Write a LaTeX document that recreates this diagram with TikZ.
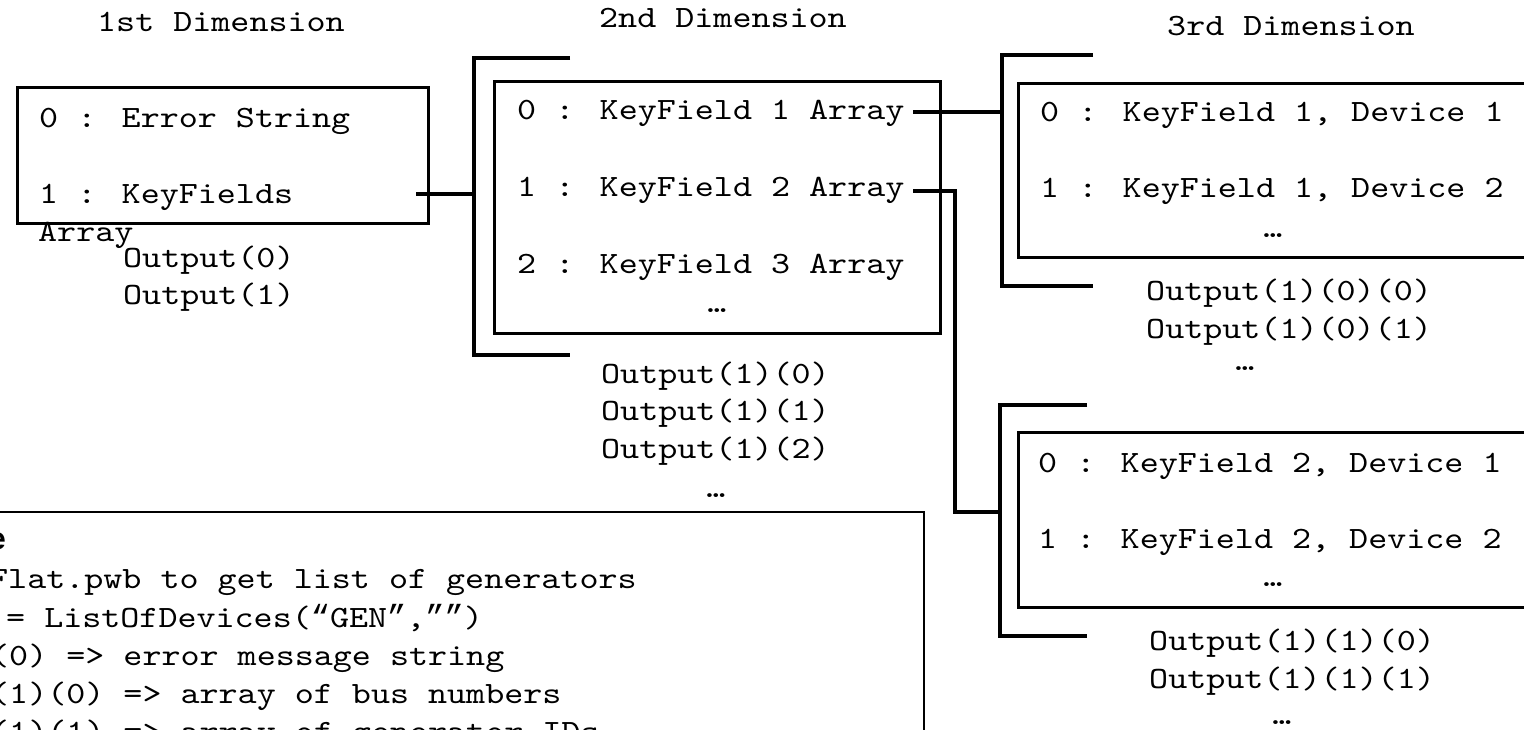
\documentclass[tikz,border=0pt]{standalone}
\usepackage{fontspec}
\newfontfamily\sansbold{Liberation Sans}[BoldFont={Liberation Sans Bold}]
\newfontfamily\cmono{lmmono10-regular.otf}[FakeStretch=1.17]
\newfontfamily\qmono{Liberation Mono}
\usetikzlibrary{calc}
\newcommand\cfont{\cmono\fontsize{31bp}{38bp}\selectfont}
\newcommand\qo{{\qmono\fontsize{32bp}{38bp}\selectfont “}}
\newcommand\qc{{\qmono\fontsize{32bp}{38bp}\selectfont ”}}
\begin{document}
\begin{tikzpicture}[x=1bp,y=-1bp,
  txt/.style={font=\cfont, inner sep=0pt, anchor=base west},
  dots/.style={font=\cfont, inner sep=0pt, anchor=base},
  box/.style={draw, line width=3.2bp, inner sep=0pt, anchor=north west},
  notebox/.style={draw, line width=2.2bp, inner sep=0pt, anchor=north east},
  brk/.style={line width=3.2bp},
  conn/.style={line width=3.2bp}]
\useasboundingbox (0,0) rectangle (1524,730);
\clip (0,0) rectangle (1524,730);

% headings
\node[txt] (h1) at (97,32) {1st Dimension};
\node[txt] (h2) at (599,28) {2nd Dimension};
\node[txt] (h3) at (1167,36) {3rd Dimension};

% 1st dimension
\node[box, minimum width=411bp, minimum height=136bp] (b1) at (16,86) {};
\node[txt] (e0) at (39,128) {0 : Error String};
\node[txt] (k1) at (39,203) {1 : KeyFields};
\node[txt] (k1b) at (38,241) {Array};
\node[txt] (o0) at (123,267) {Output(0)};
\node[txt] (o1) at (123,304) {Output(1)};

% 2nd dimension
\coordinate (br2t) at (474,58);
\coordinate (br2b) at (474,355);
\draw[brk] ($(br2t)+(96,0)$) -- (br2t) -- (br2b) -- ($(br2b)+(96,0)$);
\node[box, minimum width=446bp, minimum height=252bp] (b2) at (493,80) {};
\node[txt] (r0) at (517,120) {0 : KeyField 1 Array};
\node[txt] (r1) at (517,196) {1 : KeyField 2 Array};
\node[txt] (r2) at (517,273) {2 : KeyField 3 Array};
\node[dots] (r3) at (717,312) {…};
\node[txt] (o10) at (601,383) {Output(1)(0)};
\node[txt] (o11) at (601,420) {Output(1)(1)};
\node[txt] (o12) at (601,458) {Output(1)(2)};
\node[dots] (o13) at (716,497) {…};

% 3rd dimension, keyfield 1
\coordinate (br3t) at (1002,55);
\coordinate (br3b) at (1002,286);
\draw[brk] ($(br3t)+(91,0)$) -- (br3t) -- (br3b) -- ($(br3b)+(91,0)$);
\node[box, minimum width=523bp, minimum height=174bp] (b3) at (1017,82) {};
\node[txt] (d10) at (1040,122) {0 : KeyField 1, Device 1};
\node[txt] (d11) at (1040,197) {1 : KeyField 1, Device 2};
\node[dots] (d12) at (1273,237) {…};
\node[txt] (o100) at (1146,300) {Output(1)(0)(0)};
\node[txt] (o101) at (1146,338) {Output(1)(0)(1)};
\node[dots] (o102) at (1245,370) {…};

% 3rd dimension, keyfield 2
\coordinate (br4t) at (1000,405);
\coordinate (br4b) at (1000,636);
\draw[brk] ($(br4t)+(87,0)$) -- (br4t) -- (br4b) -- ($(br4b)+(87,0)$);
\node[box, minimum width=523bp, minimum height=175bp] (b4) at (1017,431) {};
\node[txt] (d20) at (1038,472) {0 : KeyField 2, Device 1};
\node[txt] (d21) at (1038,548) {1 : KeyField 2, Device 2};
\node[dots] (d22) at (1273,586) {…};
\node[txt] (o110) at (1149,650) {Output(1)(1)(0)};
\node[txt] (o111) at (1149,688) {Output(1)(1)(1)};
\node[dots] (o112) at (1282,724) {…};

% connectors
\coordinate (c1a) at ($(b1.east |- k1.base)+(-14,-9)$);
\draw[conn] (c1a) -- (c1a -| br2t);
\coordinate (c2a) at (913,112);
\draw[conn] (c2a) -- (c2a -| br3t);
\coordinate (c3a) at (913,191);
\coordinate (j4) at (1000,512);
\draw[conn] (c3a) -- (955,0 |- c3a) -- (955,0 |- j4) -- (j4);

% example note
\node[notebox, minimum width=940bp, minimum height=260bp] (nb) at (925,511) {};
\node[font=\sansbold\bfseries\fontsize{31bp}{36bp}\selectfont, inner sep=0pt, anchor=base east] (n0) at (6,549) {e};
\node[txt] (n1) at (-11,588) {Flat.pwb to get list of generators};
\node[txt] (n2) at (6,627) {= ListOfDevices(\qo GEN\qc,\qc\qc)};
\node[txt] (n3) at (-10,665) {(0) => error message string};
\node[txt] (n4) at (-10,703) {(1)(0) => array of bus numbers};
\node[txt] (n5) at (-10,741) {(1)(1) => array of generator IDs};
\end{tikzpicture}
\end{document}
